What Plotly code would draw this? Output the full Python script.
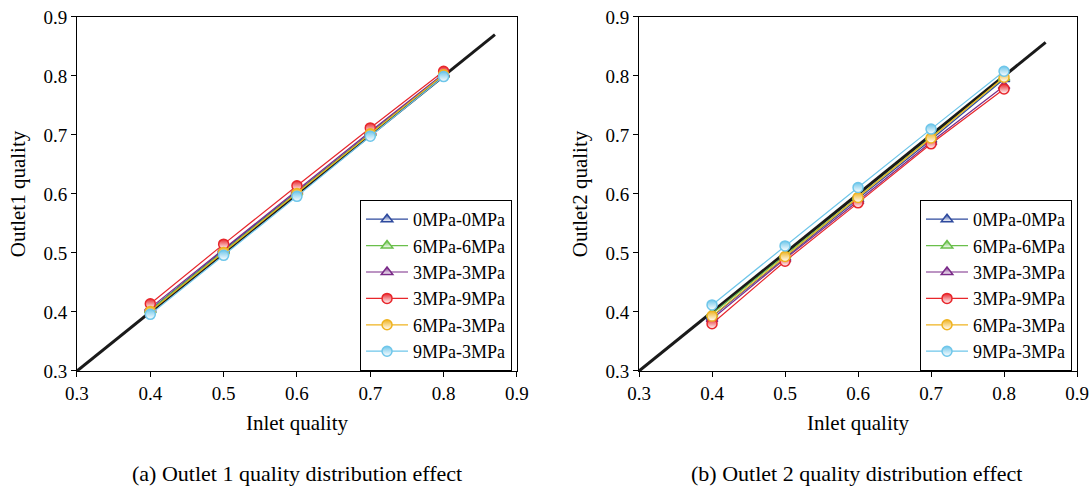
import plotly.graph_objects as go

inlet = [0.4, 0.5, 0.6, 0.7, 0.8]
series_names = ["0MPa-0MPa", "6MPa-6MPa", "3MPa-3MPa", "3MPa-9MPa", "6MPa-3MPa", "9MPa-3MPa"]
colors = ["#2e4a9e", "#6abf4b", "#7a2a88", "#e8262b", "#efb320", "#6ec6ea"]
symbols = ["triangle-up", "triangle-up", "triangle-up", "circle", "circle", "circle"]

# Outlet 1 quality per case
out1_00 = [0.404, 0.505, 0.604, 0.704, 0.803]
out1_66 = [0.403, 0.503, 0.603, 0.703, 0.802]
out1_33 = [0.407, 0.507, 0.606, 0.706, 0.804]
out1_39 = [0.414, 0.515, 0.614, 0.712, 0.808]
out1_63 = [0.401, 0.501, 0.601, 0.702, 0.802]
out1_93 = [0.396, 0.496, 0.596, 0.698, 0.799]

# Outlet 2 quality per case
out2_00 = [0.392, 0.492, 0.591, 0.692, 0.795]
out2_66 = [0.397, 0.496, 0.595, 0.696, 0.797]
out2_33 = [0.388, 0.490, 0.588, 0.688, 0.783]
out2_39 = [0.380, 0.486, 0.585, 0.685, 0.778]
out2_63 = [0.393, 0.494, 0.594, 0.695, 0.798]
out2_93 = [0.412, 0.512, 0.611, 0.710, 0.808]

# y = x reference lines
ref1 = [0.3, 0.87]
ref2 = [0.3, 0.857]

out1 = [out1_00, out1_66, out1_33, out1_39, out1_63, out1_93]
out2 = [out2_00, out2_66, out2_33, out2_39, out2_63, out2_93]

FONT = "Liberation Serif"
fig = go.Figure()

for data, ref, xa, ya, leg in [
    (out1, ref1, "x", "y", "legend"),
    (out2, ref2, "x2", "y2", "legend2"),
]:
    fig.add_trace(go.Scatter(x=ref, y=ref, mode="lines", line=dict(color="#1a1a1a", width=3),
                             showlegend=False, xaxis=xa, yaxis=ya, hoverinfo="skip"))
    for name, vals, c, s in zip(series_names, data, colors, symbols):
        fig.add_trace(go.Scatter(
            x=inlet, y=vals, name=name, mode="lines+markers",
            line=dict(color=c, width=1.2),
            marker=dict(symbol=s, size=10, color=c,
                        line=dict(color=c, width=1.5),
                        gradient=dict(type="vertical", color="white")),
            xaxis=xa, yaxis=ya, legend=leg,
        ))

axis_common = dict(range=[0.3, 0.9], dtick=0.1, tickformat=".1f", showgrid=False, zeroline=False,
                   showline=True, linecolor="black", linewidth=1, mirror=True,
                   ticks="outside", ticklen=5, tickcolor="black", automargin=False,
                   tickfont=dict(family=FONT, size=19, color="black"))

title_font = dict(family=FONT, size=21, color="black")
legend_common = dict(xanchor="right", yanchor="top", bordercolor="black", borderwidth=1,
                     bgcolor="white", font=dict(family=FONT, size=18, color="black"),
                     itemwidth=42, tracegroupgap=0)

fig.update_layout(
    width=1092, height=494, margin=dict(l=0, r=0, t=0, b=0),
    paper_bgcolor="white", plot_bgcolor="white",
    font=dict(family=FONT, color="black"),
    xaxis=dict(domain=[0.0705, 0.4734], anchor="y",
               title=dict(text="Inlet quality", font=title_font, standoff=12), **axis_common),
    yaxis=dict(domain=[0.249, 0.9656], anchor="x",
               title=dict(text="Outlet1 quality", font=title_font, standoff=12), **axis_common),
    xaxis2=dict(domain=[0.5852, 0.9863], anchor="y2",
                title=dict(text="Inlet quality", font=title_font, standoff=12), **axis_common),
    yaxis2=dict(domain=[0.249, 0.9656], anchor="x2",
                title=dict(text="Outlet2 quality", font=title_font, standoff=12), **axis_common),
    legend=dict(x=0.4689, y=1 - 200 / 494, **legend_common),
    legend2=dict(x=0.9817, y=1 - 200 / 494, **legend_common),
    annotations=[
        dict(text="(a) Outlet 1 quality distribution effect", x=0.272, y=1 - 473 / 494,
             xref="paper", yref="paper", xanchor="center", yanchor="middle", showarrow=False,
             font=dict(family=FONT, size=22, color="black")),
        dict(text="(b) Outlet 2 quality distribution effect", x=0.784, y=1 - 473 / 494,
             xref="paper", yref="paper", xanchor="center", yanchor="middle", showarrow=False,
             font=dict(family=FONT, size=22, color="black")),
    ],
)

fig.write_html("out.html")
